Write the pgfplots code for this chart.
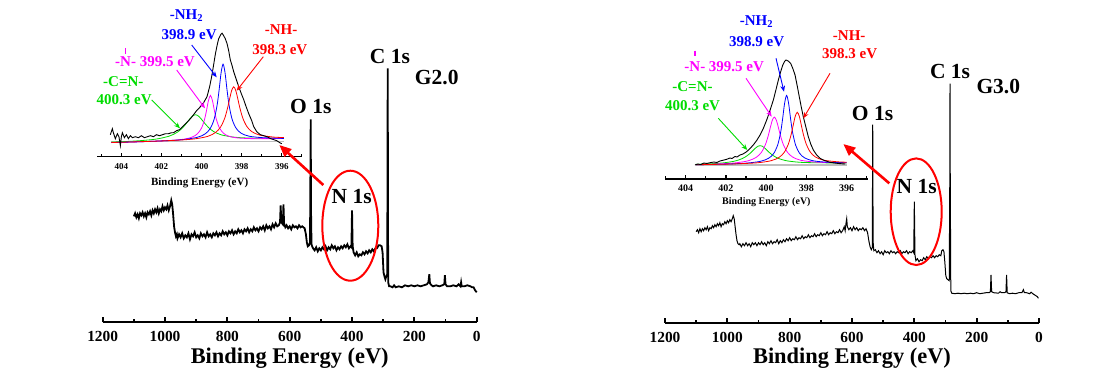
\documentclass[border=0pt]{standalone}
\usepackage{fontspec}
\setmainfont{Liberation Serif}
\usepackage{pgfplots}
\pgfplotsset{compat=1.18}
\usetikzlibrary{arrows.meta}
\definecolor{cblue}{RGB}{0,0,255}
\definecolor{cred}{RGB}{255,0,0}
\definecolor{cmag}{RGB}{255,0,255}
\definecolor{cgreen}{RGB}{0,220,0}
\definecolor{cgray}{RGB}{190,190,190}
\pgfplotsset{
  mainax/.style={
    scale only axis, anchor=south west,
    width=187pt, height=135pt,
    xmin=0, xmax=1200, ymin=0, ymax=270, x dir=reverse,
    axis x line*=bottom, axis y line=none,
    xtick={0,200,...,1200}, minor xtick={100,300,...,1100},
    tick align=inside, major tick length=2.6pt, minor tick length=1.6pt,
    every tick/.style={black, line width=0.9pt},
    axis line style={black, line width=1pt},
    x tick label style={font=\bfseries\fontsize{7.7}{8}\selectfont, anchor=center, yshift=-7.2pt,
      /pgf/number format/assume math mode=true, /pgf/number format/1000 sep={}},
    xlabel={Binding Energy (eV)},
    xlabel style={font=\bfseries\fontsize{11.2}{12}\selectfont, at={(axis description cs:0.5,0)}, anchor=center, yshift=-17.9pt},
    clip=false,
  },
  insetax/.style={
    scale only axis, anchor=south west, height=75pt,
    ymin=0, ymax=150, x dir=reverse,
    axis x line*=bottom, axis y line=none,
    xtick={396,398,...,404}, minor xtick={395,397,...,405},
    tick align=inside, major tick length=2pt, minor tick length=1.3pt,
    every tick/.style={black, line width=0.6pt},
    axis line style={black, line width=0.75pt},
    xlabel={Binding Energy (eV)},
    clip=false,
  },
  comp/.style={line width=0.4pt, smooth, tension=0.5},
}
\begin{document}
\begin{tikzpicture}
\path[use as bounding box] (0,0) rectangle (548.5pt,-190.5pt);

% ---------------- LEFT MAIN ----------------
\begin{axis}[mainax, at={(51.35pt,-161.15pt)}]
\addplot[black, line width=0.9pt] coordinates {
(1100,106) (1096,109) (1092,105) (1088,108) (1084,104) (1080,109) (1076,107) (1072,110) (1068,106) (1064,109)
(1060,105) (1056,110) (1052,108) (1048,111) (1044,107) (1040,112) (1036,109) (1032,113) (1028,110) (1024,114)
(1020,109) (1016,113) (1012,111) (1008,116) (1004,112) (1000,115) (996,113) (992,117) (988,112) (984,116)
(980,122) (977,118) (974,108) (971,96) (968,90) (965,86) (962,88) (960,84) (955,88) (950,85) (945,89) (940,84)
(935,87) (930,85) (925,89) (920,83) (915,88) (910,86) (905,90) (900,85) (895,87) (890,84) (885,89) (880,86)
(875,88) (870,85) (865,90) (860,86) (855,88) (850,85) (845,89) (840,87) (835,90) (830,86) (825,89) (820,87)
(815,91) (810,88) (805,90) (800,87) (795,91) (790,89) (785,92) (780,88) (775,91) (770,89) (765,93) (760,90)
(755,92) (750,89) (745,93) (740,91) (735,94) (730,90) (725,93) (720,91) (715,95) (710,92) (705,94) (700,91)
(695,95) (690,93) (685,96) (680,92) (675,97) (670,94) (665,96) (660,93) (655,98) (650,95) (645,99) (640,96)
(635,97) (631,100) (629,117) (627,100) (622,98) (620,118) (618,99) (614,95) (610,97) (605,94) (600,96) (595,93)
(590,97) (585,95) (580,96) (575,94) (570,97) (565,95) (560,96) (556,95) (552,94) (548,88) (545,80) (542,76)
(538,77) (535,80) (534,120) (532.6,203) (531.5,110) (530,78) (528,76) (525,74) (520,72) (515,75) (510,71)
(505,74) (500,72) (495,75) (490,73) (485,76) (480,72) (475,75) (470,73) (465,77) (460,74) (455,76) (450,72)
(445,75) (440,73) (435,76) (430,74) (425,77) (420,75) (415,78) (410,74) (405,76) (402,75) (400,112) (398,76)
(395,70) (390,67) (385,70) (380,66) (375,68) (370,67) (365,70) (360,68) (355,71) (350,69) (345,72) (340,70)
(335,73) (330,71) (325,74) (320,74) (315,77) (310,77) (305,76) (302,70) (299,50) (296,46) (293,43) (290,46)
(287,48) (286.2,150) (285.5,254) (284.8,150) (284,40) (281,36) (277,36) (270,35) (265,37) (260,35) (250,36)
(240,35) (230,37) (220,36) (210,37) (200,36) (190,37) (180,36) (170,37) (160,38) (155,40) (152,48) (150,39)
(145,37) (140,36) (130,37) (120,36) (110,37) (104,38) (102,47) (100,38) (95,36) (85,36) (75,37) (65,36)
(58,38) (52,36) (50,40) (48,36) (40,36) (30,37) (20,36) (15,35) (10,35) (5,32) (0,30)
};
\end{axis}

% ---------------- RIGHT MAIN ----------------
\begin{axis}[mainax, at={(332.5pt,-161.35pt)}]
\addplot[black, line width=0.5pt] coordinates {
(1100,91) (1096,93) (1092,90) (1088,94) (1084,91) (1080,94) (1076,92) (1072,95) (1068,93) (1064,96) (1060,92)
(1056,95) (1052,94) (1048,97) (1044,95) (1040,98) (1036,96) (1032,99) (1028,97) (1024,100) (1020,96) (1016,99)
(1012,98) (1008,101) (1004,99) (1000,102) (996,100) (992,103) (988,101) (984,104) (981,107) (978,104) (975,96)
(972,88) (969,82) (966,79) (962,78) (960,79) (955,76) (950,79) (945,77) (940,80) (935,77) (930,79) (925,76)
(920,80) (915,78) (910,80) (905,77) (900,80) (895,78) (890,81) (885,78) (880,80) (875,77) (870,81) (865,79)
(860,82) (855,79) (850,81) (845,80) (840,83) (835,79) (830,82) (825,80) (820,83) (815,81) (810,84) (805,82)
(800,85) (795,82) (790,84) (785,83) (780,86) (775,83) (770,85) (765,84) (760,87) (755,84) (750,86) (745,85)
(740,88) (735,85) (730,87) (725,86) (720,89) (715,86) (710,88) (705,87) (700,90) (695,87) (690,89) (685,88)
(680,91) (675,88) (670,90) (665,89) (660,92) (655,89) (650,91) (645,90) (640,93) (635,90) (630,92) (625,96)
(622,92) (619,100) (617,104) (615,96) (610,93) (605,95) (600,92) (595,96) (590,93) (585,95) (580,92) (575,94)
(570,93) (565,95) (560,92) (555,94) (550,90) (546,82) (542,76) (538,73) (535,75) (534.3,130) (533.5,198)
(532.7,120) (532,80) (530,72) (525,73) (520,70) (515,72) (510,69) (505,71) (500,68) (495,72) (490,70) (485,71)
(480,69) (475,72) (470,70) (465,71) (460,69) (455,71) (450,70) (445,72) (440,69) (435,71) (430,70) (425,72)
(420,69) (415,71) (410,70) (405,72) (402,70) (400,121) (398,68) (395,62) (390,64) (385,61) (380,63) (375,62)
(370,65) (365,63) (360,66) (355,64) (350,66) (345,65) (340,67) (335,65) (330,67) (325,66) (320,68) (315,67)
(312,72) (308,73) (305,71) (302,60) (299,47) (296,44) (292,43) (288,42) (286.3,140) (285.5,239) (284.7,140)
(283,32) (280,29.5) (270,29) (260,29.5) (250,29) (240,29.5) (230,29) (220,29.5) (210,29) (200,30) (190,29)
(180,29.5) (170,30) (160,30) (156,31) (154,47.7) (152,31) (145,30) (130,29.5) (125,31) (120,30) (110,30)
(106,31) (104,47.7) (102,30) (95,29) (85,29.5) (75,29) (65,30) (55,30) (50,33) (47,30) (40,30) (30,29)
(25,30.5) (20,29) (15,28) (10,27) (5,26) (2,24.4)
};
\end{axis}

% ---------------- LEFT INSET ----------------
\begin{axis}[insetax, at={(48.65pt,-78.35pt)}, width=102.3pt, xmin=395, xmax=405.2,
  x tick label style={font=\bfseries\fontsize{4.5}{5}\selectfont, anchor=center, yshift=-4.95pt,
    /pgf/number format/assume math mode=true},
  xlabel style={font=\bfseries\fontsize{5.5}{6}\selectfont, at={(axis description cs:0.5,0)}, anchor=center, yshift=-13.3pt}]
\addplot[cgray, line width=0.4pt] coordinates {(404.5,15.5) (395.9,15.5)};
\addplot[cgreen, comp] coordinates {
(404.5,14.6) (403.31,15.7) (402.31,17.5) (401.61,20.6) (401.21,24.5) (400.96,28.7) (400.76,33.3) (400.61,37.3)
(400.51,39.6) (400.41,41.3) (400.31,42.0) (400.21,41.4) (400.11,39.8) (400.01,37.5) (399.86,33.8) (399.66,29.3)
(399.41,25.3) (399.01,21.8) (398.31,19.4) (397.31,18.5) (395.9,18.6)};
\addplot[cmag, comp] coordinates {
(404.5,14.1) (403.0,15.0) (401.56,16.2) (400.86,17.6) (400.46,19.7) (400.21,22.9) (400.01,28.4) (399.86,36.8)
(399.76,45.7) (399.66,56.0) (399.56,61.3) (399.46,56.1) (399.36,45.9) (399.26,37.0) (399.11,28.8) (398.91,23.5)
(398.66,20.6) (398.26,18.9) (397.56,18.1) (396.56,18.1) (395.9,18.2)};
\addplot[cblue, comp] coordinates {
(404.5,14.2) (403.0,15.0) (401.5,16.3) (400.93,17.1) (400.23,19.3) (399.83,22.7) (399.58,27.9) (399.38,37.1)
(399.23,51.2) (399.13,66.2) (399.03,83.7) (398.93,92.6) (398.83,83.8) (398.73,66.4) (398.63,51.5) (398.48,37.5)
(398.28,28.5) (398.03,23.5) (397.63,20.5) (396.93,19.0) (395.9,18.3)};
\addplot[cred, comp] coordinates {
(404.5,14.2) (403.0,15.05) (401.4,16.3) (400.4,17.7) (399.7,20.3) (399.3,24.3) (399.05,29.8) (398.85,38.4)
(398.7,49.1) (398.6,58.1) (398.5,66.3) (398.4,69.9) (398.3,66.4) (398.2,58.3) (398.1,49.4) (397.95,38.8)
(397.75,30.4) (397.5,25.1) (397.1,21.6) (396.4,19.6) (395.9,19.2)};
\addplot[black, line width=0.45pt] coordinates {
(404.55,22) (404.45,28) (404.4,24) (404.3,18) (404.2,23) (404.12,20) (404.05,11) (404.0,20) (403.95,24) (403.85,19)
(403.75,22) (403.65,18) (403.55,21) (403.45,19) (403.3,20) (403.15,19) (403.0,21) (402.85,19) (402.7,20)
(402.55,21) (402.4,20) (402.25,22) (402.1,21) (401.95,22) (401.8,23) (401.65,23) (401.5,24) (401.4,24)
(401.25,26) (401.1,27) (401.0,29) (400.85,32) (400.7,35) (400.56,38) (400.4,42) (400.25,46) (400.06,50)
(399.9,54) (399.73,60) (399.6,70) (399.48,82) (399.4,92) (399.31,103) (399.22,112) (399.15,118) (399.05,122)
(398.98,123.5) (398.9,121) (398.82,118) (398.73,113) (398.65,106) (398.57,97) (398.48,91) (398.4,85) (398.3,79)
(398.15,70) (398.0,62) (397.9,57) (397.78,50) (397.65,43) (397.5,36) (397.4,30) (397.25,25) (397.07,22)
(396.9,21) (396.74,20) (396.55,18) (396.4,17) (396.25,16) (396.1,14) (396.0,13)};
\end{axis}

% ---------------- RIGHT INSET ----------------
\begin{axis}[insetax, at={(332.5pt,-89.5pt)}, width=101.4pt, xmin=394.94, xmax=405.03,
  x tick label style={font=\bfseries\fontsize{5}{5.5}\selectfont, anchor=center, yshift=-4.65pt,
    /pgf/number format/assume math mode=true},
  xlabel style={font=\bfseries\fontsize{5}{5.5}\selectfont, at={(axis description cs:0.5,0)}, anchor=center, yshift=-11.35pt}]
\addplot[cgray, line width=0.8pt] coordinates {(403.5,14) (396.0,14)};
\addplot[cgreen, comp] coordinates {
(403.5,14.6) (403.3,14.8) (402.3,15.8) (401.6,17.7) (401.2,20.3) (400.95,23.2) (400.75,26.5) (400.6,29.6)
(400.5,31.4) (400.4,32.8) (400.3,33.3) (400.2,32.9) (400.1,31.5) (400.0,29.7) (399.85,26.7) (399.65,23.5)
(399.4,20.7) (399.0,18.3) (398.3,16.7) (397.3,16.2) (396.0,16.1)};
\addplot[cmag, comp] coordinates {
(403.5,14.4) (402.59,14.9) (401.59,16.0) (400.89,18.2) (400.49,21.7) (400.24,26.5) (400.04,34.1) (399.89,43.5)
(399.79,51.5) (399.69,58.8) (399.59,61.9) (399.49,58.8) (399.39,51.6) (399.29,43.6) (399.14,34.3) (398.94,26.8)
(398.69,22.1) (398.29,18.8) (397.59,17.0) (396.59,16.3) (396.0,16.2)};
\addplot[cblue, comp] coordinates {
(403.5,14.25) (402.0,14.9) (400.98,15.9) (400.28,17.7) (399.88,20.7) (399.63,25.3) (399.43,33.6) (399.28,46.3)
(399.18,59.9) (399.08,75.6) (398.98,83.6) (398.88,75.6) (398.78,59.9) (398.68,46.5) (398.53,33.8) (398.33,25.6)
(398.08,21.1) (397.68,18.3) (396.98,16.8) (396.0,16.3)};
\addplot[cred, comp] coordinates {
(403.5,14.25) (402.0,14.85) (401.45,15.2) (400.45,16.2) (399.75,18.3) (399.35,21.7) (399.1,26.6) (398.9,34.5)
(398.75,44.8) (398.65,53.9) (398.55,62.8) (398.45,66.7) (398.35,62.8) (398.25,54.0) (398.15,44.9) (398.0,34.7)
(397.8,26.9) (397.55,22.1) (397.15,18.9) (396.45,17.2) (396.0,16.8)};
\addplot[black, line width=0.45pt] coordinates {
(403.54,14) (403.4,15) (403.25,14.5) (403.1,16) (402.95,15.5) (402.79,16.3) (402.6,17) (402.45,16.5) (402.3,18)
(402.1,19) (401.96,19.7) (401.8,21) (401.7,20.5) (401.55,22.5) (401.45,22) (401.3,24) (401.15,25) (400.97,27.3)
(400.8,30.5) (400.64,34) (400.47,38.5) (400.3,44) (400.13,51) (399.97,59) (399.8,69) (399.64,79) (399.5,90)
(399.39,99) (399.28,107) (399.17,114) (399.08,117.5) (399.01,119) (398.9,118) (398.78,115.7) (398.67,110.5)
(398.56,104) (398.45,93) (398.35,82.3) (398.25,72) (398.15,62.3) (398.02,52) (397.9,42.3) (397.78,35)
(397.65,29) (397.5,24.5) (397.32,20.7) (397.1,18.5) (396.82,16.7) (396.6,16) (396.4,15.5) (396.07,15)};
\end{axis}

% ---------------- ANNOTATIONS (pixel coordinates) ----------------
\begin{scope}[x=0.5pt, y=-0.5pt]
\tikzset{big/.style={font=\bfseries\fontsize{10.75}{11}\selectfont, anchor=base, inner sep=0pt},
         lab/.style={font=\bfseries\fontsize{7.5}{8}\selectfont, anchor=base, inner sep=0pt},
         ptr/.style={line width=0.45pt, -{Stealth[length=3pt,width=2.4pt]}}}
% left panel
\node[big] at (390,63.3) {C 1s};
\node[big] at (436.7,84) {G2.0};
\node[big] at (310.8,113.3) {O 1s};
\node[big] at (351.7,203.3) {N 1s};
\draw[cred, line width=1pt] (350.3,225.7) ellipse [x radius=28, y radius=55];
\draw[cred, line width=1.3pt, -{Triangle[length=6pt,width=5pt]}] (323.3,185) -- (279.3,145);
\node[lab, cblue] at (186.7,19.5) {-NH\textsubscript{2}};
\node[lab, cblue] at (189.2,39.3) {398.9 eV};
\node[lab, cred] at (281,34.5) {-NH-};
\node[lab, cred] at (279.8,54) {398.3 eV};
\node[lab, cmag] at (155,66.7) {-N- 399.5 eV};
\draw[cmag, line width=0.7pt] (125.6,48.3) -- (125.6,53.5);
\node[lab, cgreen] at (123.3,86) {-C=N-};
\node[lab, cgreen] at (124.2,104) {400.3 eV};
\draw[cblue, ptr] (191.7,45) -- (216.7,77.3);
\draw[cred, ptr] (263.3,56.7) -- (236.7,90.7);
\draw[cmag, ptr] (176.7,70) -- (205,108.3);
\draw[cgreen, ptr] (151.7,100) -- (180,128.3);
% right panel
\node[big] at (950,78.3) {C 1s};
\node[big] at (998.3,93.3) {G3.0};
\node[big] at (872.5,120) {O 1s};
\node[big] at (916.7,193.3) {N 1s};
\draw[cred, line width=1pt] (916.2,211.7) ellipse [x radius=25.5, y radius=53.3];
\draw[cred, line width=1.3pt, -{Triangle[length=6pt,width=5pt]}] (889.3,183.3) -- (843.3,144);
\node[lab, cblue] at (756.7,25) {-NH\textsubscript{2}};
\node[lab, cblue] at (756.7,46.7) {398.9 eV};
\node[lab, cred] at (849.2,40) {-NH-};
\node[lab, cred] at (849.7,58.3) {398.3 eV};
\node[lab, cmag] at (724.2,71.7) {-N- 399.5 eV};
\draw[cmag, line width=0.7pt] (694.8,50.5) -- (694.8,55.8);
\node[lab, cgreen] at (692.5,91.7) {-C=N-};
\node[lab, cgreen] at (692.5,110) {400.3 eV};
\draw[cblue, ptr] (776,58.3) -- (784,91.7);
\draw[cred, ptr] (830,73.3) -- (803.3,118.3);
\draw[cmag, ptr] (746,78.3) -- (771.7,116.7);
\draw[cgreen, ptr] (718.3,118.3) -- (747.3,150);
\end{scope}
\end{tikzpicture}
\end{document}
